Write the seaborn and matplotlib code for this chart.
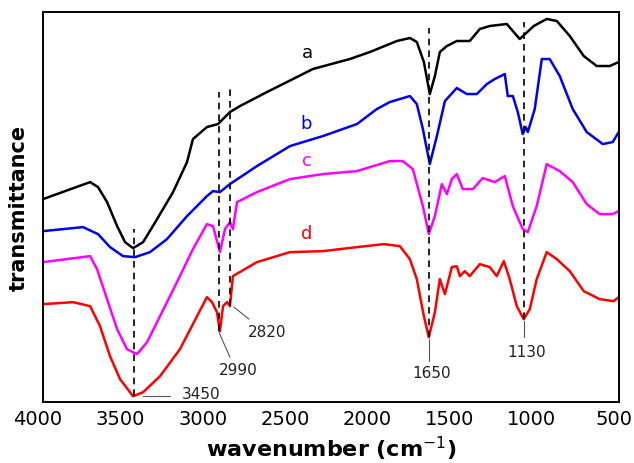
import matplotlib
matplotlib.use("Agg")
import matplotlib.pyplot as plt
import matplotlib.transforms as mtransforms
import pandas as pd
import seaborn as sns

# FTIR spectra, transmittance in arbitrary units (curves are offset)
wn_a = [4000, 3866, 3714, 3666, 3611, 3550, 3502, 3453, 3392, 3307, 3210, 3125, 3089, 3004,
        2937, 2864, 2803, 2639, 2481, 2360, 2135, 2013, 1849, 1770, 1728, 1685, 1649, 1618,
        1588, 1545, 1485, 1406, 1345, 1284, 1181, 1102, 1017, 938, 877, 798, 713, 634, 555, 500]
tr_a = [203, 211, 220, 215, 200, 176, 160, 154, 160, 183, 210, 240, 263, 275,
        278, 290, 296, 310, 323, 333, 343, 350, 361, 364, 360, 340, 308, 326,
        350, 356, 361, 361, 373, 376, 378, 363, 376, 383, 381, 366, 346, 336, 336, 340]

wn_b = [4000, 3757, 3666, 3593, 3514, 3441, 3350, 3247, 3125, 3004, 2967, 2925, 2864, 2700,
        2499, 2299, 2092, 1971, 1892, 1770, 1728, 1691, 1649, 1606, 1557, 1485, 1424, 1363,
        1302, 1254, 1193, 1175, 1144, 1114, 1084, 1066, 1053, 1011, 968, 920, 859, 780, 695,
        597, 537, 500]
tr_b = [171, 175, 168, 155, 146, 145, 150, 163, 186, 206, 211, 210, 218, 236,
        256, 266, 278, 293, 300, 306, 298, 273, 238, 266, 301, 314, 308, 308,
        318, 323, 328, 306, 306, 290, 268, 275, 270, 293, 343, 343, 326, 293, 270,
        258, 260, 270]

wn_c = [4000, 3714, 3672, 3611, 3550, 3490, 3429, 3368, 3289, 3186, 3089, 3004, 2967, 2925,
        2894, 2864, 2846, 2821, 2700, 2499, 2299, 2092, 1892, 1813, 1752, 1691, 1655, 1618,
        1576, 1545, 1515, 1485, 1448, 1387, 1327, 1254, 1193, 1144, 1084, 1053, 999, 938,
        859, 780, 695, 616, 537, 500]
tr_c = [140, 146, 133, 103, 73, 53, 48, 60, 86, 120, 153, 178, 176, 150,
        173, 180, 173, 200, 210, 223, 228, 231, 241, 241, 233, 196, 168, 186,
        218, 208, 223, 228, 213, 213, 224, 220, 226, 196, 173, 170, 196, 238,
        231, 220, 198, 188, 188, 191]

wn_d = [4000, 3818, 3714, 3654, 3593, 3532, 3453, 3392, 3289, 3168, 3064, 3004, 2973, 2943,
        2925, 2906, 2882, 2864, 2846, 2700, 2499, 2299, 2092, 1928, 1831, 1770, 1728, 1685,
        1655, 1618, 1588, 1557, 1515, 1485, 1466, 1436, 1406, 1345, 1284, 1242, 1199, 1163,
        1120, 1078, 1041, 999, 938, 877, 798, 713, 616, 531, 500]
tr_d = [98, 100, 96, 76, 46, 23, 6, 10, 26, 53, 86, 105, 100, 90,
        71, 96, 100, 96, 126, 140, 150, 151, 155, 158, 156, 143, 123, 86,
        65, 90, 123, 108, 135, 136, 126, 131, 126, 138, 135, 126, 141, 123,
        96, 83, 93, 123, 150, 143, 131, 111, 103, 101, 105]

curve_names = ["a", "b", "c", "d"]
curve_colors = ["#000000", "#0000ee", "#ff00ff", "#ff0000"]
# label anchor (wavenumber, transmittance) for each curve letter
label_wn = [2390, 2400, 2395, 2400]
label_tr = [341, 270, 233, 160]

# dashed guide lines: wavenumber, top, bottom
peak_wn = [3447, 2931, 2864, 1655, 1078]
peak_top = [173, 310, 317, 374, 380]
peak_bottom = [6, 71, 96, 65, 83]

# peak annotations: text, tip point, leader end, text position
peak_text = ["3450", "2990", "2820", "1650", "1130"]
tip_wn = [3392, 2931, 2840, 1655, 1078]
tip_tr = [6, 70, 95, 63, 81]
leader_wn = [3229, 2864, 2748, 1655, 1078]
leader_tr = [6, 45, 83, 41, 65]
text_wn = [3040, 2815, 2639, 1637, 1060]
text_tr = [9, 33, 71, 30, 51]

frames = []
for name, wn, tr in zip(curve_names, [wn_a, wn_b, wn_c, wn_d], [tr_a, tr_b, tr_c, tr_d]):
    frames.append(pd.DataFrame({"wavenumber": wn, "transmittance": tr, "sample": name}))
spectra = pd.concat(frames, ignore_index=True)

sns.set_style("white")
plt.rcParams["font.family"] = ["DejaVu Sans"]
plt.rcParams["text.color"] = "black"
plt.rcParams["axes.labelcolor"] = "black"
plt.rcParams["xtick.color"] = "black"

fig, ax = plt.subplots(figsize=(6.34, 4.64), dpi=100)
fig.subplots_adjust(left=0.068, right=0.976, bottom=0.131, top=0.972)

sns.lineplot(data=spectra, x="wavenumber", y="transmittance", hue="sample",
             palette=dict(zip(curve_names, curve_colors)), estimator=None, sort=False,
             linewidth=1.8, legend=False, ax=ax)

for w, top, bot in zip(peak_wn, peak_top, peak_bottom):
    ax.plot([w, w], [bot, top], color="black", linestyle=(0, (4, 3)), linewidth=1.2)

for txt, tw, tt, lw_, lt, xw, xt in zip(peak_text, tip_wn, tip_tr, leader_wn, leader_tr,
                                         text_wn, text_tr):
    ax.plot([tw, lw_], [tt, lt], color="#555555", linewidth=0.8)
    ax.text(xw, xt, txt, fontsize=11, ha="center", va="center", color="#222222")

for name, color, w, t in zip(curve_names, curve_colors, label_wn, label_tr):
    ax.text(w, t, name, color=color, fontsize=13, ha="center", va="bottom")

ax.set_xlim(4000, 500)
ax.set_ylim(0, 390)
ax.set_xticks([4000, 3500, 3000, 2500, 2000, 1500, 1000, 500])
ax.set_yticks([])
ax.tick_params(axis="x", direction="in", length=4, width=1.2, labelsize=14, pad=5)
shift = mtransforms.ScaledTranslation(-5 / 100, 0, fig.dpi_scale_trans)
for lab in ax.get_xticklabels():
    lab.set_transform(lab.get_transform() + shift)
for spine in ax.spines.values():
    spine.set_color("black")
    spine.set_linewidth(1.4)

ax.set_xlabel("wavenumber (cm$^{-1}$)", fontsize=16, fontweight="bold", labelpad=4)
ax.set_ylabel("transmittance", fontsize=15, fontweight="bold", labelpad=10)

fig.savefig("out.png", dpi=100)
plt.close(fig)
